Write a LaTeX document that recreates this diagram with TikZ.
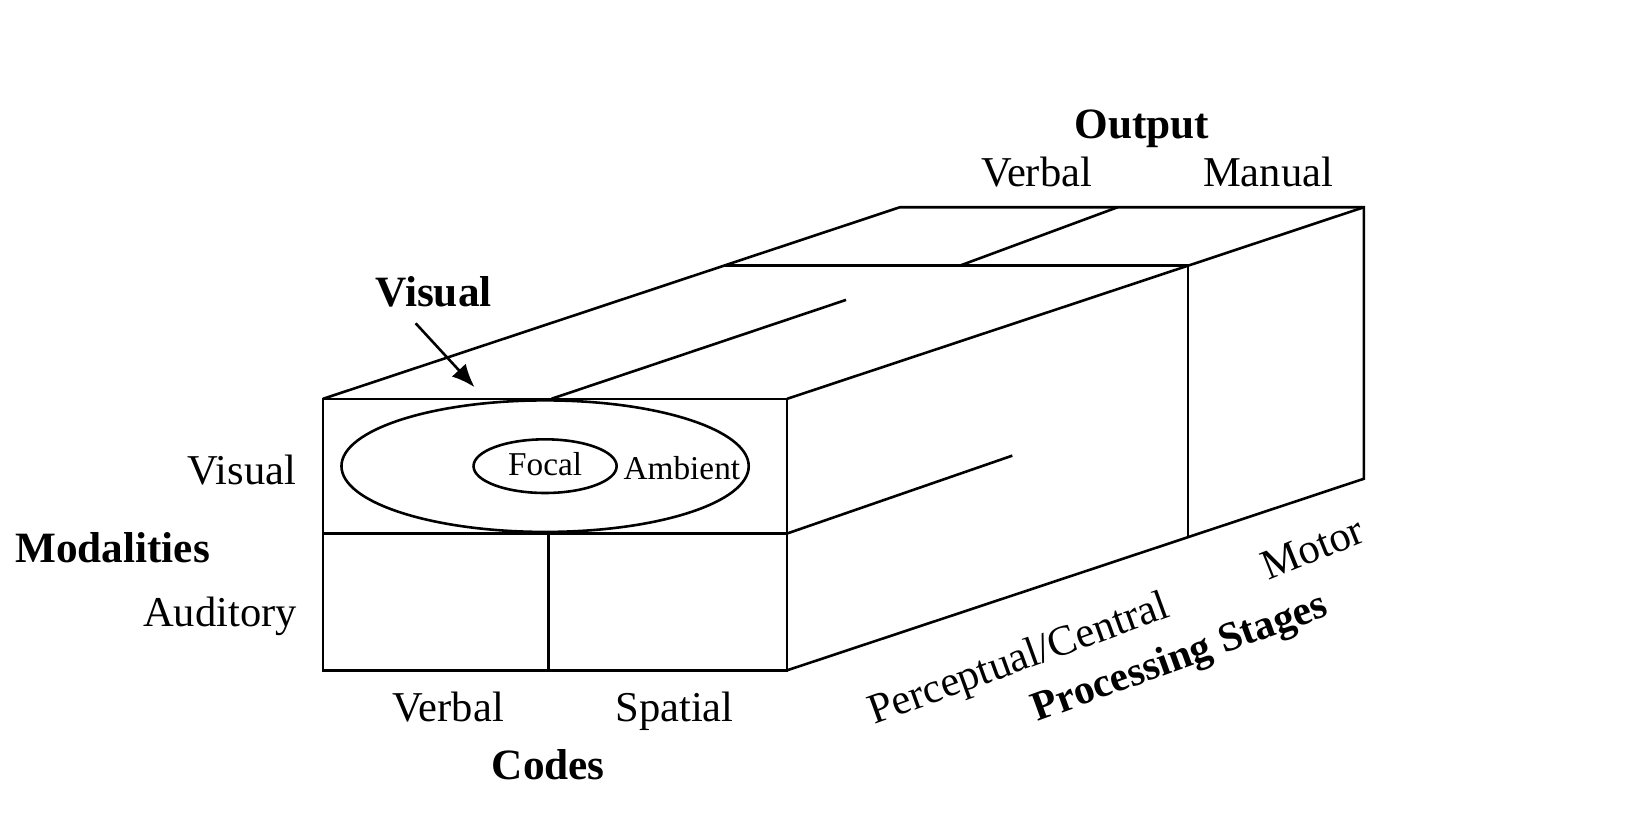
\documentclass[tikz,border=0pt]{standalone}
\usepackage{fontspec}
\setmainfont{Liberation Serif}
\usepackage{tikz}
\usetikzlibrary{arrows.meta, shapes.geometric}

\tikzset{
    lbl/.style={font=\fontsize{11.5}{13}\selectfont, text height=0.7em, text depth=0.2em},
    head/.style={font=\fontsize{11.7}{14}\selectfont\bfseries, text height=0.7em, text depth=0.2em},
    small/.style={font=\fontsize{9}{10}\selectfont, text height=0.7em, text depth=0.2em},
}

\begin{document}
\begin{tikzpicture}[line width=0.7pt]
        \fill[white] (0, 0) rectangle (15.68, 7.97);
        \useasboundingbox (0, 0) rectangle (15.68, 7.97);

        % front face
        \draw (3.07, 1.60) rectangle (7.48, 4.18);
        \draw (3.07, 2.90) -- (7.48, 2.90);
        \draw (5.21, 1.60) -- (5.21, 2.90);

        % box
        \draw (3.07, 4.18) -- (8.55, 6.00) -- (12.96, 6.00) -- (12.96, 3.42) -- (7.48, 1.60);
        \draw (7.48, 4.18) -- (11.29, 5.445) -- (12.96, 6.00);
        \draw (6.88, 5.445) -- (11.29, 5.445) -- (11.29, 2.865);
        \draw (9.12, 5.445) -- (10.62, 6.00);
        \draw (5.24, 4.18) -- (8.04, 5.12);
        \draw (7.48, 2.90) -- (9.62, 3.64);

        \draw (5.18, 3.54) ellipse (1.935 and 0.625);
        \node[small, draw, ellipse, minimum width=1.36cm, minimum height=0.51cm, inner sep=0pt] (focal) at (5.18, 3.54) {Focal};
        \node[small] (ambient) at (6.48, 3.50) {Ambient};


        \node[head] (output) at (10.85, 6.745) {Output};
        \node[lbl] (outverbal) at (9.85, 6.29) {Verbal};
        \node[lbl] (manual) at (12.05, 6.29) {Manual};

        \node[head] (vislab) at (4.12, 5.145) {Visual};
        \coordinate (vistip) at (4.51, 4.29);
        \draw[-{Latex[length=2.2mm, width=1.8mm]}] ([xshift=-0.17cm, yshift=0.04cm]vislab.south) -- (vistip);

        \node[lbl] (visual) at (2.30, 3.455) {Visual};
        \node[head] (modalities) at (1.07, 2.715) {Modalities};
        \node[lbl] (auditory) at (2.09, 2.105) {Auditory};

        \node[lbl] (verbal) at (4.26, 1.205) {Verbal};
        \node[lbl] (spatial) at (6.41, 1.205) {Spatial};
        \node[head] (codes) at (5.21, 0.655) {Codes};

        \node[lbl, rotate=20, inner sep=1pt] (central) at (9.69, 1.68) {Perceptual/Central};
        \node[head, rotate=20, inner sep=1pt, font=\fontsize{11.2}{13}\selectfont\bfseries] (stages) at (11.22, 1.70) {Processing Stages};
        \node[lbl, rotate=22, inner sep=1pt] (motor) at (12.49, 2.72) {Motor};
\end{tikzpicture}
\end{document}
